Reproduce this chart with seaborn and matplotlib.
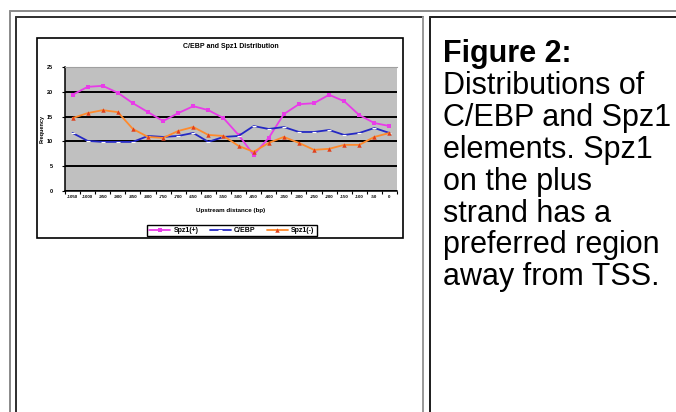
import numpy as np
import pandas as pd
import seaborn as sns
import matplotlib.pyplot as plt
from matplotlib.lines import Line2D
from matplotlib.patches import Rectangle

# data
bins = ["-1050", "-1000", "-950", "-900", "-850", "-800", "-750", "-700",
        "-650", "-600", "-550", "-500", "-450", "-400", "-350", "-300",
        "-250", "-200", "-150", "-100", "-50", "0"]
spz1_plus = [19.4, 21.0, 21.2, 19.8, 17.7, 15.9, 14.1, 15.7, 17.1, 16.3, 14.7,
             11.3, 7.3, 10.7, 15.5, 17.5, 17.7, 19.4, 18.1, 15.3, 13.7, 13.1]
cebp = [11.7, 10.1, 9.9, 9.9, 9.9, 11.1, 10.9, 11.1, 11.7, 9.9, 10.9,
        11.1, 13.1, 12.5, 12.9, 11.9, 11.9, 12.3, 11.3, 11.7, 12.7, 11.7]
spz1_minus = [14.7, 15.7, 16.3, 15.9, 12.5, 10.9, 10.7, 12.1, 12.9, 11.3, 11.1,
              9.1, 7.9, 9.7, 10.9, 9.7, 8.3, 8.5, 9.3, 9.3, 10.9, 11.7]
series_names = ["Spz1(+)", "C/EBP", "Spz1(-)"]
yticks = [0, 5, 10, 15, 20, 25]

caption_title = "Figure 2:"
caption_lines = ["Distributions of", "C/EBP and Spz1", "elements. Spz1",
                 "on the plus", "strand has a", "preferred region",
                 "away from TSS."]

W, H = 676, 412
sns.set_style("white")
plt.rcParams['font.family'] = ['Liberation Sans', 'DejaVu Sans']
plt.rcParams['text.color'] = 'black'
plt.rcParams['axes.labelcolor'] = 'black'
plt.rcParams['xtick.color'] = 'black'
plt.rcParams['ytick.color'] = 'black'

fig = plt.figure(figsize=(W / 100, H / 100), dpi=100)
fig.patch.set_facecolor("white")


def fx(x):
    return x / W


def fy(y):
    return 1 - y / H


def vline(x, y0, y1, color, lw):
    fig.add_artist(Line2D([fx(x), fx(x)], [fy(y0), fy(y1)], color=color,
                          lw=lw * 0.72, transform=fig.transFigure))


def hline(x0, x1, y, color, lw):
    fig.add_artist(Line2D([fx(x0), fx(x1)], [fy(y), fy(y)], color=color,
                          lw=lw * 0.72, transform=fig.transFigure))


# html table borders
vline(10, 11, H, "#8c8c8c", 2)
hline(10, W, 11, "#8c8c8c", 2)
vline(15.5, 17, H, "#333333", 2)
hline(15.5, 423, 17, "#333333", 2)
vline(423, 17, H, "#9a9a9a", 2)
vline(429.5, 17, H, "#222222", 2)
hline(429.5, W, 17, "#222222", 2)

# chart frame
fig.add_artist(Rectangle((fx(37), fy(237.5)), fx(403) - fx(37), fy(37.5) - fy(237.5),
                         transform=fig.transFigure, facecolor="white",
                         edgecolor="black", lw=1.2, zorder=-1))

# plot area
ax = fig.add_axes([fx(65), fy(191), fx(397) - fx(65), fy(67) - fy(191)])
ax.set_facecolor("#c0c0c0")
x = np.arange(len(bins))
sns.lineplot(x=x, y=spz1_plus, ax=ax, color="#e83ce8", lw=1.3, marker="s",
             markersize=2.8, markeredgewidth=0, label=series_names[0])
sns.lineplot(x=x, y=cebp, ax=ax, color="#2428c4", lw=1.3, marker="_",
             markersize=3, markeredgewidth=0.8, label=series_names[1])
sns.lineplot(x=x, y=spz1_minus, ax=ax, color="#ff8a2c", lw=1.3, marker="^",
             markersize=3.2, markerfacecolor="#e0401c", markeredgewidth=0,
             label=series_names[2])

ax.set_xlim(-0.5, len(bins) - 0.5)
ax.set_ylim(0, 25)
ax.set_yticks(yticks)
ax.set_yticklabels([str(v) for v in yticks], fontsize=4, fontweight="bold")
ax.yaxis.grid(True, color="black", lw=1.4)
ax.set_axisbelow(True)
ax.set_xticks(np.arange(len(bins) + 1) - 0.5)
ax.set_xticklabels([])
ax.set_xticks(x, minor=True)
ax.set_xticklabels(bins, minor=True, fontsize=3.2, fontweight="bold")
ax.tick_params(axis="x", which="major", length=2.5, width=0.8, color="black",
               direction="out", bottom=True)
ax.tick_params(axis="x", which="minor", length=0, pad=3)
ax.tick_params(axis="y", length=2.5, width=0.8, color="black", direction="out",
               left=True, pad=6)
for side in ["left", "bottom"]:
    ax.spines[side].set_color("black")
    ax.spines[side].set_linewidth(1.1)
ax.spines["top"].set_color("#a0a0a0")
ax.spines["top"].set_linewidth(0.8)
ax.spines["right"].set_visible(False)
ax.set_xlabel("Upstream distance (bp)", fontsize=4.5, fontweight="bold", labelpad=6)
ax.set_ylabel("Frequency", fontsize=4, fontweight="bold", labelpad=2)
ax.set_title("C/EBP and Spz1 Distribution", fontsize=5, fontweight="bold", pad=14)

ax.legend(loc="center", bbox_to_anchor=(fx(232), fy(230.5)),
          bbox_transform=fig.transFigure, ncol=3, frameon=True,
          fancybox=False, edgecolor="black", framealpha=1, borderpad=0.35,
          handlelength=3.0, columnspacing=1.6, handletextpad=0.5,
          prop={"weight": "bold", "size": 5})

# caption text in the right cell
fig.text(fx(443), fy(62), caption_title, fontsize=22, fontweight="bold",
         va="baseline", ha="left", color="black")
for i, line in enumerate(caption_lines):
    fig.text(fx(443), fy(94 + 31.9 * i), line, fontsize=22, va="baseline",
             ha="left", color="black")

fig.savefig("out.png", dpi=100, facecolor="white")
